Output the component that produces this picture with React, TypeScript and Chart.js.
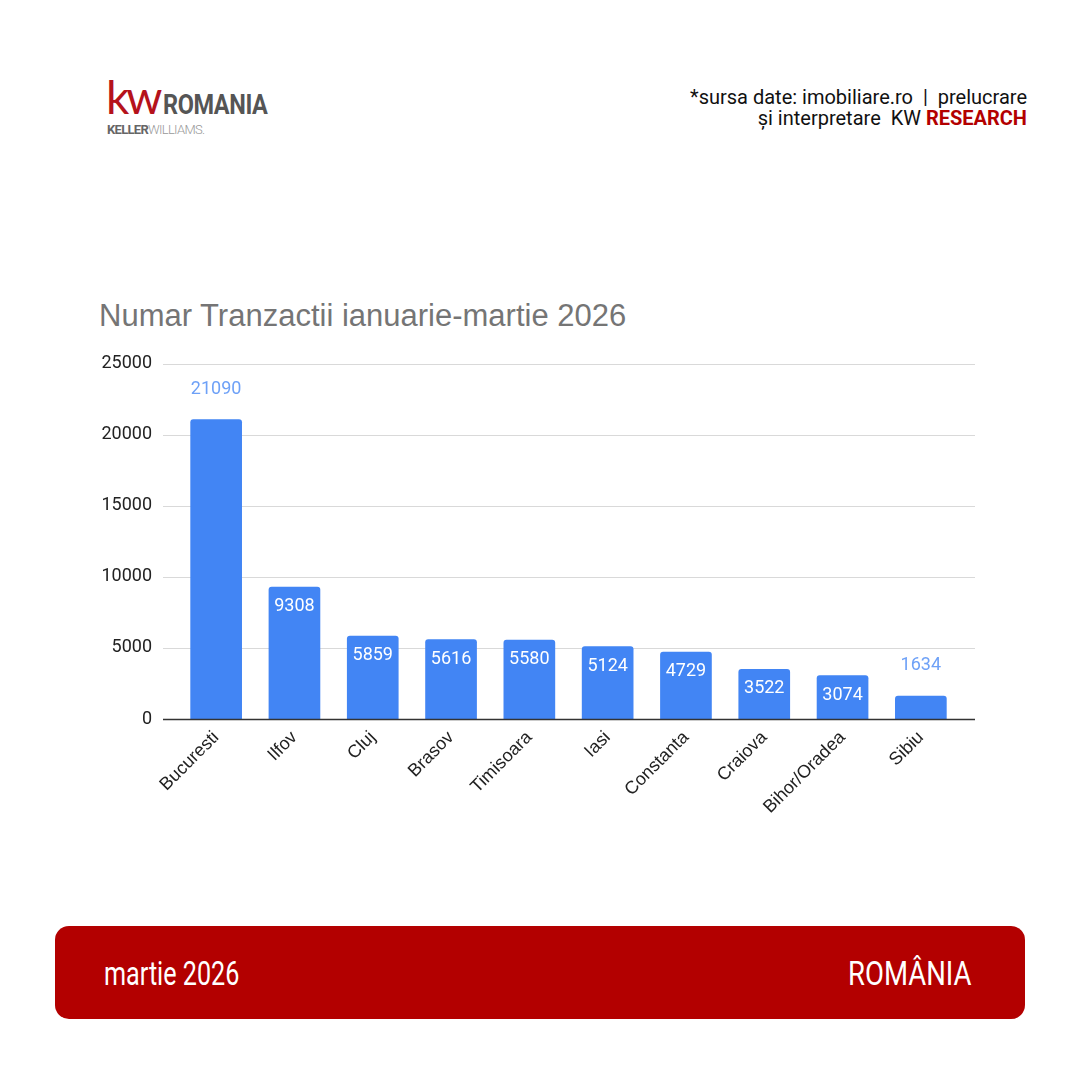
import React, { useEffect, useRef } from "react";
import { Chart, registerables } from "chart.js";

Chart.register(...registerables);

const categories = ["Bucuresti", "Ilfov", "Cluj", "Brasov", "Timisoara", "Iasi", "Constanta", "Craiova", "Bihor/Oradea", "Sibiu"];
const values = [21090, 9308, 5859, 5616, 5580, 5124, 4729, 3522, 3074, 1634];
const labelPlacement = ["outside", "inside", "inside", "inside", "inside", "inside", "inside", "inside", "inside", "outside"];
const yTicks = [0, 5000, 10000, 15000, 20000, 25000];
const chartTitle = "Numar Tranzactii ianuarie-martie 2026";

const BAR = "#4285f4";

const gridPlugin = {
  id: "extGrid",
  beforeDatasetsDraw(chart: any) {
    const { ctx, chartArea, scales } = chart;
    const y = scales.y;
    ctx.save();
    yTicks.forEach((t) => {
      if (t === 0) return;
      const py = Math.round(y.getPixelForValue(t)) + 0.5;
      ctx.beginPath();
      ctx.moveTo(chartArea.left - 14, py);
      ctx.lineTo(chartArea.right + 15, py);
      ctx.strokeStyle = "#d9d9d9";
      ctx.lineWidth = 1.2;
      ctx.stroke();
    });
    ctx.restore();
  },
  afterDatasetsDraw(chart: any) {
    const { ctx, scales } = chart;
    const y = scales.y;
    const py = Math.round(y.getPixelForValue(0)) + 0.5;
    ctx.save();
    ctx.beginPath();
    ctx.moveTo(chart.chartArea.left - 14, py);
    ctx.lineTo(chart.chartArea.right + 15, py);
    ctx.strokeStyle = "#333333";
    ctx.lineWidth = 1.5;
    ctx.stroke();
    ctx.restore();
  },
};

const labelPlugin = {
  id: "barLabels",
  afterDatasetsDraw(chart: any) {
    const { ctx } = chart;
    const meta = chart.getDatasetMeta(0);
    ctx.save();
    ctx.font = "18px Roboto";
    ctx.textAlign = "center";
    ctx.textBaseline = "middle";
    meta.data.forEach((bar: any, i: number) => {
      const v = values[i];
      if (labelPlacement[i] === "inside") {
        ctx.fillStyle = "#ffffff";
        ctx.fillText(String(v), bar.x, bar.y + 20);
      } else {
        ctx.fillStyle = "#6ea1f7";
        ctx.fillText(String(v), bar.x, bar.y - 30);
      }
    });
    ctx.restore();
  },
};

function BarChart() {
  const ref = useRef<HTMLCanvasElement | null>(null);
  useEffect(() => {
    if (!ref.current) return;
    const chart = new Chart(ref.current, {
      type: "bar",
      data: {
        labels: categories,
        datasets: [
          {
            data: values,
            backgroundColor: BAR,
            borderRadius: { topLeft: 3, topRight: 3, bottomLeft: 0, bottomRight: 0 },
            borderSkipped: "bottom",
            barPercentage: 0.66,
            categoryPercentage: 1,
          },
        ],
      },
      options: {
        animation: false,
        responsive: false,
        devicePixelRatio: 1,
        layout: { padding: { top: 12, right: 40, left: 0, bottom: 0 } },
        plugins: { legend: { display: false }, tooltip: { enabled: false }, title: { display: false } },
        scales: {
          x: {
            grid: { display: false, drawTicks: false },
            border: { display: false },
            ticks: {
              color: "#222222",
              font: { family: "Liberation Sans", size: 18 },
              maxRotation: 45,
              minRotation: 45,
              padding: 8,
              autoSkip: false,
            },
            afterFit(scale: any) {
              scale.height = 141;
            },
          },
          y: {
            min: 0,
            max: 25000,
            afterBuildTicks(scale: any) {
              scale.ticks = yTicks.map((v) => ({ value: v }));
            },
            grid: { display: false, drawTicks: false },
            border: { display: false },
            ticks: {
              color: "#222222",
              font: { family: "Roboto", size: 18 },
              padding: 25,
              callback: (v: any) => String(v),
            },
            afterFit(scale: any) {
              scale.width = 97;
            },
          },
        },
      },
      plugins: [gridPlugin, labelPlugin],
    });
    return () => chart.destroy();
  }, []);
  return <canvas ref={ref} width={920} height={532} style={{ position: "absolute", left: 80, top: 328, width: 920, height: 532 }} />;
}

export default function App() {
  return (
    <div style={{ position: "fixed", left: 0, top: 0, width: 1080, height: 1080, background: "#ffffff", overflow: "hidden", fontFamily: "Roboto" }}>
      {/* Logo */}
      <div style={{ position: "absolute", left: 106, top: 74, whiteSpace: "nowrap", lineHeight: 1 }}>
        <span style={{ color: "#b5121b", fontFamily: "Lato", fontWeight: 400, fontSize: 46, letterSpacing: -3 }}>kw</span>
        <span style={{ color: "#555555", fontFamily: "Roboto", fontWeight: 700, fontSize: 28, marginLeft: 3, display: "inline-block", transform: "scaleX(0.84)", transformOrigin: "left", letterSpacing: -0.5 }}>ROMANIA</span>
      </div>
      <div style={{ position: "absolute", left: 107, top: 123, whiteSpace: "nowrap", fontSize: 13, lineHeight: 1, letterSpacing: -0.7 }}>
        <span style={{ color: "#666666", fontWeight: 700 }}>KELLER</span>
        <span style={{ color: "#999999", fontWeight: 300 }}>WILLIAMS.</span>
      </div>
      {/* Source */}
      <div style={{ position: "absolute", right: 53, top: 87, textAlign: "right", fontSize: 20, lineHeight: "21px", color: "#111111", whiteSpace: "pre" }}>
        <div>*sursa date: imobiliare.ro  |  prelucrare</div>
        <div>
          și interpretare  KW <span style={{ color: "#b30000", fontWeight: 700 }}>RESEARCH</span>
        </div>
      </div>
      {/* Title */}
      <div style={{ position: "absolute", left: 99, top: 298, fontFamily: "Liberation Sans", fontSize: 31, color: "#757575", whiteSpace: "nowrap", lineHeight: "36px" }}>
        {chartTitle}
      </div>
      <BarChart />
      {/* Footer */}
      <div style={{ position: "absolute", left: 55, top: 926, width: 970, height: 93, borderRadius: 14, background: "#b30000" }}>
        <div style={{ position: "absolute", left: 49, top: 27, color: "#ffffff", fontSize: 34, lineHeight: "40px", whiteSpace: "nowrap", transform: "scaleX(0.74)", transformOrigin: "left" }}>
          martie 2026
        </div>
        <div style={{ position: "absolute", right: 54, top: 27, color: "#ffffff", fontSize: 34, lineHeight: "40px", whiteSpace: "nowrap", transform: "scaleX(0.81)", transformOrigin: "right" }}>
          ROMÂNIA
        </div>
      </div>
    </div>
  );
}
